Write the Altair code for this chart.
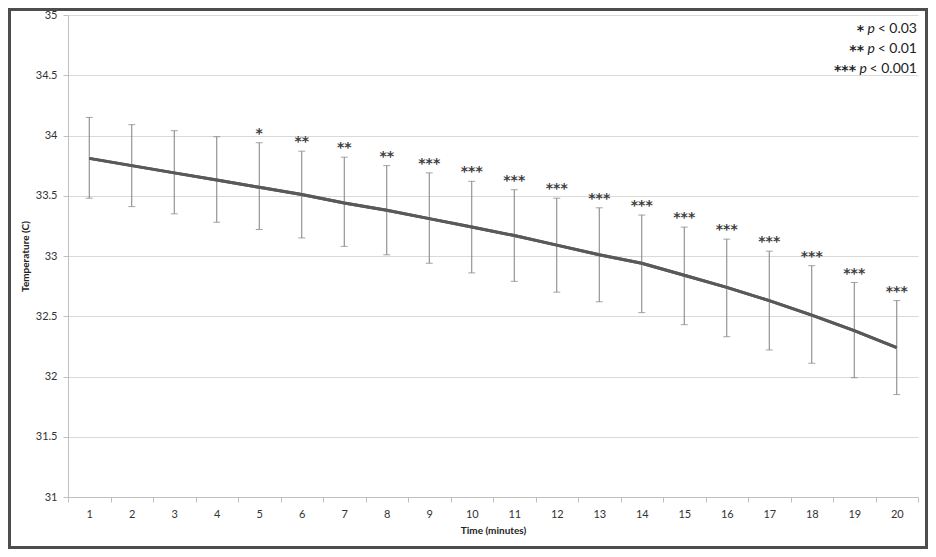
import altair as alt
import pandas as pd

minutes = list(range(1, 21))
mean_temp = [33.81, 33.75, 33.69, 33.63, 33.57, 33.51, 33.44, 33.38, 33.31, 33.24,
             33.17, 33.09, 33.01, 32.94, 32.84, 32.74, 32.63, 32.51, 32.38, 32.24]
upper = [34.15, 34.09, 34.04, 33.99, 33.94, 33.87, 33.82, 33.75, 33.69, 33.62,
         33.55, 33.48, 33.40, 33.34, 33.24, 33.14, 33.04, 32.92, 32.78, 32.63]
lower = [33.48, 33.41, 33.35, 33.28, 33.22, 33.15, 33.08, 33.01, 32.94, 32.86,
         32.79, 32.70, 32.62, 32.53, 32.43, 32.33, 32.22, 32.11, 31.99, 31.85]
signif = ["", "", "", "", "*", "**", "**", "**", "***", "***",
          "***", "***", "***", "***", "***", "***", "***", "***", "***", "***"]

legend_stars = ["*", "**", "***"]
legend_thresh = ["< 0.03", "< 0.01", "< 0.001"]

df = pd.DataFrame({"minute": minutes, "mean": mean_temp, "upper": upper,
                   "lower": lower, "sig": signif})

FONT = "Lato"
STARFONT = "DejaVu Sans"
W, H = 850, 482

x = alt.X("minute:O", title="Time (minutes)",
          axis=alt.Axis(labelAngle=0, tickBand="extent", labelFontSize=11,
                        labelColor="#333333", titleFontSize=10, titleFontWeight="bold",
                        titleColor="#222", domainColor="#bfbfbf", tickColor="#bfbfbf",
                        tickSize=5, labelPadding=6, titlePadding=6, grid=False))
yscale = alt.Scale(domain=[31, 35], nice=False, zero=False)

base = alt.Chart(df)

line = base.mark_line(color="#595959", strokeWidth=3).encode(
    x=x,
    y=alt.Y("mean:Q", scale=yscale, title="Temperature (C)",
            axis=alt.Axis(values=[31, 31.5, 32, 32.5, 33, 33.5, 34, 34.5, 35],
                          format=".1~f", labelFontSize=11, labelColor="#333333",
                          titleFontSize=10, titleFontWeight="bold", titleColor="#222",
                          gridColor="#d9d9d9", domainColor="#bfbfbf",
                          tickColor="#bfbfbf", tickSize=5, labelPadding=6,
                          titlePadding=5)),
)

rules = base.mark_rule(color="#7f7f7f", strokeWidth=1).encode(
    x="minute:O", y=alt.Y("lower:Q", scale=yscale), y2="upper:Q")
cap_top = base.mark_tick(color="#7f7f7f", thickness=1, size=7).encode(
    x="minute:O", y=alt.Y("upper:Q", scale=yscale))
cap_bot = base.mark_tick(color="#7f7f7f", thickness=1, size=7).encode(
    x="minute:O", y=alt.Y("lower:Q", scale=yscale))

stars = base.mark_text(fontSize=14, fontWeight="bold", color="#404040",
                       baseline="alphabetic", dy=-5, font=STARFONT).encode(
    x="minute:O", y=alt.Y("upper:Q", scale=yscale), text="sig:N")

one = pd.DataFrame({"a": [0]})
frame = alt.Chart(one).mark_rect(filled=False, stroke="#4d4d4d", strokeWidth=3).encode(
    x=alt.value(-58.5), x2=alt.value(W + 8.5), y=alt.value(-5.5), y2=alt.value(H + 50.5))

legend_layers = []
thresh_w = [39, 39, 47]
for i, (s, t) in enumerate(zip(legend_stars, legend_thresh)):
    yy = 18 + 20 * i
    rx = W - 1
    legend_layers.append(alt.Chart(one).mark_text(
        fontSize=14, font=FONT, color="#222", align="right", baseline="alphabetic",
        text=t).encode(x=alt.value(rx), y=alt.value(yy)))
    px = rx - thresh_w[i] - 3
    legend_layers.append(alt.Chart(one).mark_text(
        fontSize=14, font=FONT, fontStyle="italic", color="#222", align="right",
        baseline="alphabetic", text="p").encode(x=alt.value(px), y=alt.value(yy)))
    legend_layers.append(alt.Chart(one).mark_text(
        fontSize=14, font=STARFONT, fontWeight="bold", color="#222", align="right",
        baseline="alphabetic", text=s).encode(x=alt.value(px - 11), y=alt.value(yy + 2)))

chart = alt.layer(line, rules, cap_top, cap_bot, line, stars, frame, *legend_layers).properties(
    width=W, height=H,
    autosize=alt.AutoSizeParams(type="none"),
    padding={"left": 60, "top": 7, "right": 10, "bottom": 52},
).configure_view(stroke=None).configure_axis(labelFont=FONT, titleFont=FONT)

chart.save("out.html", embed_options={"renderer": "svg", "actions": False})
